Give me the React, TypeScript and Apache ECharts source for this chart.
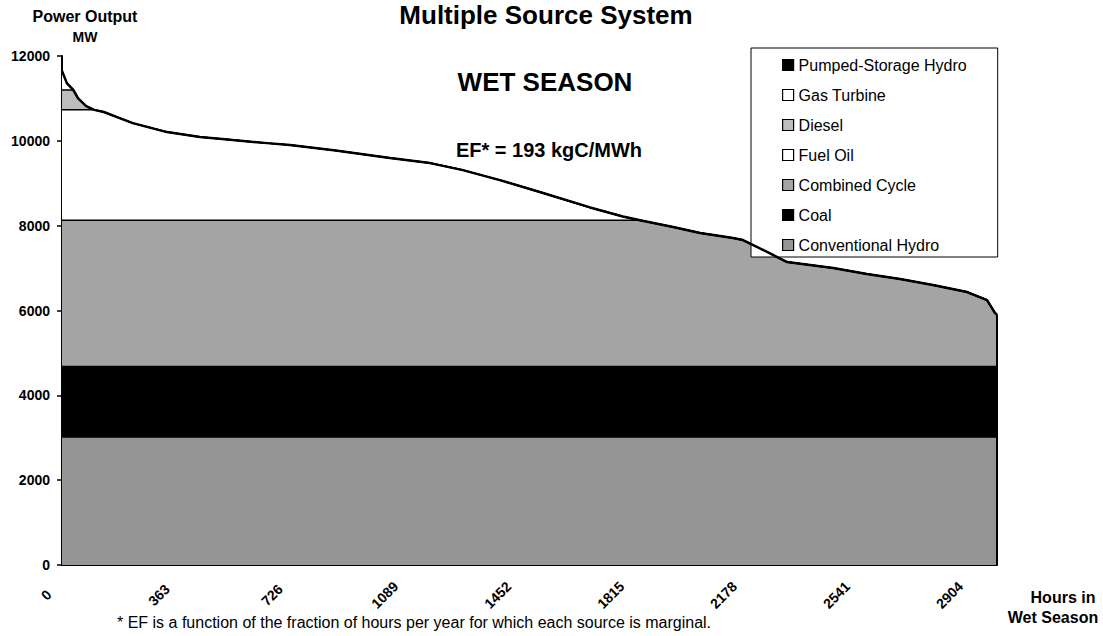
import React, { useEffect, useRef } from "react";
import * as echarts from "echarts";

// ---- Data ----
const hours = [0, 15, 35, 50, 75, 100, 130, 171, 220, 326, 429, 531, 637, 708, 850, 1019, 1143, 1245, 1360, 1432, 1494, 1640, 1742, 1795, 1898, 1982, 2084, 2115, 2190, 2252, 2395, 2500, 2603, 2705, 2811, 2873, 2898, 2904];
const loadMW = [11650, 11360, 11200, 11000, 10820, 10730, 10680, 10560, 10418, 10206, 10088, 10017, 9946, 9900, 9770, 9593, 9475, 9310, 9074, 8910, 8770, 8430, 8215, 8130, 7967, 7825, 7707, 7660, 7380, 7142, 7000, 6860, 6741, 6600, 6435, 6246, 5940, 5900];

// capacity tops of each source in merit order (MW)
const hydroTopMW = 3000;
const coalTopMW = 4700;
const combinedCycleTopMW = 8130;
const fuelOilTopMW = 10730;
const dieselTopMW = 11200;

const legendNames = ["Pumped-Storage Hydro", "Gas Turbine", "Diesel", "Fuel Oil", "Combined Cycle", "Coal", "Conventional Hydro"];
const legendColors = ["#000000", "#ffffff", "#bdbdbd", "#ffffff", "#a4a4a4", "#000000", "#959595"];

// x-axis tick labels (hours)
const xMax = 2904;
const xInterval = 363;
const xLabelScaleMax = 3006; // the printed hour labels sit on a slightly compressed scale
const yMax = 12000;
const yInterval = 2000;

const FONT = 'Arial, "Liberation Sans", Helvetica, sans-serif';

const capped = (cap: number) => hours.map((h, i) => [h, Math.min(loadMW[i], cap)]);
const flat = (v: number) => [[0, v], [xMax, v]];

export default function App() {
  const ref = useRef<HTMLDivElement>(null);
  useEffect(() => {
    if (!ref.current) return;
    const chart = echarts.init(ref.current, null, { renderer: "svg" });
    const areaSeries = (name: string, data: any[], color: string, lineW = 1.5) => ({
      name,
      type: "line",
      xAxisIndex: 0,
      data,
      symbol: "none",
      showSymbol: false,
      lineStyle: { color: "#000", width: lineW },
      itemStyle: { color },
      areaStyle: { color, opacity: 1 },
      silent: true,
    });
    const option: any = {
      animation: false,
      backgroundColor: "#ffffff",
      grid: { left: 62, right: 106, top: 56, bottom: 71, containLabel: false },
      xAxis: [
        {
          type: "value",
          position: "bottom",
          min: 0,
          max: xMax,
          interval: xInterval,
          axisLine: { show: true, onZero: false, lineStyle: { color: "#000", width: 2 } },
          axisTick: { show: false },
          splitLine: { show: false },
          axisLabel: { show: false },
        },
        {
          type: "value",
          position: "bottom",
          min: 0,
          max: xLabelScaleMax,
          interval: xInterval,
          axisLine: { show: false, onZero: false },
          axisTick: { show: false },
          splitLine: { show: false },
          axisLabel: {
            show: true,
            rotate: 45,
            align: "center",
            verticalAlign: "middle",
            margin: 14,
            padding: [0, 45, 0, 0],
            color: "#000",
            fontSize: 14,
            fontWeight: "bold",
            fontFamily: FONT,
            showMaxLabel: false,
            formatter: (v: number) => (v % xInterval === 0 && v <= xMax ? String(v) : ""),
          },
        },
      ],
      yAxis: {
        type: "value",
        min: 0,
        max: yMax,
        interval: yInterval,
        axisLine: { show: true, lineStyle: { color: "#000", width: 2 } },
        axisTick: { show: true, length: 5, inside: false, lineStyle: { color: "#000", width: 1.5 } },
        splitLine: { show: false },
        axisLabel: {
          margin: 12,
          color: "#000",
          fontSize: 14,
          fontWeight: "bold",
          fontFamily: FONT,
          formatter: (v: number) => String(v),
        },
      },
      legend: {
        show: true,
        orient: "vertical",
        left: 751,
        top: 48,
        padding: [9, 31, 4, 31],
        itemGap: 14,
        itemWidth: 11,
        itemHeight: 11,
        selectedMode: false,
        backgroundColor: "#ffffff",
        borderColor: "#000",
        borderWidth: 1,
        textStyle: { fontSize: 16, color: "#000", fontFamily: FONT },
        data: legendNames.map((n, i) => ({
          name: n,
          icon: "rect",
          itemStyle: { color: legendColors[i], borderColor: "#000", borderWidth: 1.2 },
        })),
      },
      series: [
        areaSeries(legendNames[0], [], legendColors[0]),
        areaSeries(legendNames[1], hours.map((h, i) => [h, loadMW[i]]), legendColors[1]),
        areaSeries(legendNames[2], capped(dieselTopMW), legendColors[2]),
        areaSeries(legendNames[3], capped(fuelOilTopMW), legendColors[3]),
        areaSeries(legendNames[4], capped(combinedCycleTopMW), legendColors[4]),
        areaSeries(legendNames[5], flat(coalTopMW), legendColors[5], 0),
        areaSeries(legendNames[6], flat(hydroTopMW), legendColors[6], 0),
        {
          name: "load",
          type: "line",
          xAxisIndex: 0,
          data: hours.map((h, i) => [h, loadMW[i]]),
          symbol: "none",
          z: 5,
          lineStyle: { color: "#000", width: 2.5 },
          silent: true,
        },
        {
          name: "edge",
          type: "line",
          xAxisIndex: 0,
          data: [[xMax, 0], [xMax, loadMW[loadMW.length - 1]]],
          symbol: "none",
          z: 5,
          lineStyle: { color: "#000", width: 2 },
          silent: true,
        },
      ],
      graphic: [
        { type: "text", x: 546, y: 15, style: { text: "Multiple Source System", fontSize: 26, fontWeight: "bold", fontFamily: FONT, fill: "#000", align: "center", verticalAlign: "middle" } },
        { type: "text", x: 85, y: 16, style: { text: "Power Output", fontSize: 16, fontWeight: "bold", fontFamily: FONT, fill: "#000", align: "center", verticalAlign: "middle" } },
        { type: "text", x: 85, y: 37, style: { text: "MW", fontSize: 14, fontWeight: "bold", fontFamily: FONT, fill: "#000", align: "center", verticalAlign: "middle" } },
        { type: "text", x: 545, y: 82, style: { text: "WET SEASON", fontSize: 26, fontWeight: "bold", fontFamily: FONT, fill: "#000", align: "center", verticalAlign: "middle" } },
        { type: "text", x: 549, y: 150, style: { text: "EF* = 193 kgC/MWh", fontSize: 20, fontWeight: "bold", fontFamily: FONT, fill: "#000", align: "center", verticalAlign: "middle" } },
        { type: "text", x: 1063, y: 597, style: { text: "Hours in", fontSize: 16, fontWeight: "bold", fontFamily: FONT, fill: "#000", align: "center", verticalAlign: "middle" } },
        { type: "text", x: 1053, y: 617, style: { text: "Wet Season", fontSize: 16, fontWeight: "bold", fontFamily: FONT, fill: "#000", align: "center", verticalAlign: "middle" } },
        { type: "text", x: 117, y: 622, style: { text: "* EF is a function of the fraction of hours per year for which each source is marginal.", fontSize: 16, fontFamily: FONT, fill: "#000", align: "left", verticalAlign: "middle" } },
      ],
    };
    chart.setOption(option);
    return () => chart.dispose();
  }, []);
  return <div ref={ref} style={{ position: "absolute", left: 0, top: 0, width: 1103, height: 636 }} />;
}
